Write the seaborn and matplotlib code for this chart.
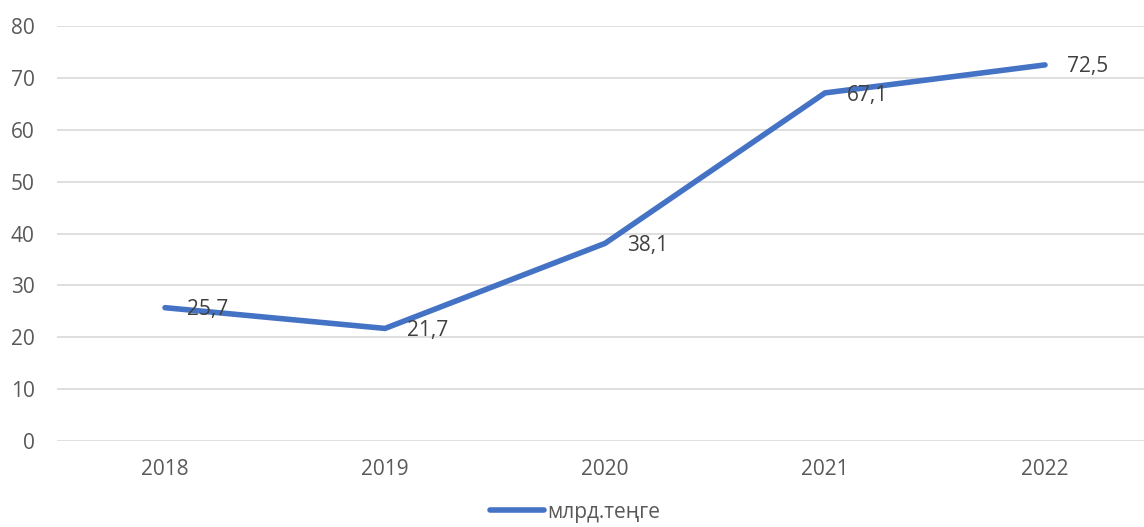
import matplotlib
matplotlib.use("Agg")
import matplotlib.pyplot as plt
import seaborn as sns
import pandas as pd

years = ["2018", "2019", "2020", "2021", "2022"]
values = [25.7, 21.7, 38.1, 67.1, 72.5]
labels = ["25,7", "21,7", "38,1", "67,1", "72,5"]
series_name = "млрд.теңге"

sns.set_style("white")
plt.rcParams["font.family"] = ["Open Sans", "DejaVu Sans"]

df = pd.DataFrame({"year": years, "value": values})

fig = plt.figure(figsize=(11.44, 5.27), dpi=100)
ax = fig.add_axes([57 / 1144, 1 - 441 / 527, (1144 - 57) / 1144, (441 - 26) / 527])

sns.lineplot(data=df, x="year", y="value", ax=ax, color="#4472C4",
             linewidth=4.0, sort=False, label=series_name)
for line in ax.get_lines():
    line.set_solid_capstyle("round")
    line.set_solid_joinstyle("miter")

for i, (v, t) in enumerate(zip(values, labels)):
    ax.annotate(t, (i, v), xytext=(16, -1.5), textcoords="offset points",
                ha="left", va="center", fontsize=15, color="#404040")

ax.set_xlim(-0.491, 4.45)
ax.set_ylim(0, 80)
ax.set_yticks(range(0, 81, 10))
ax.grid(axis="y", color="#d9d9d9", linewidth=1.2)
ax.set_axisbelow(True)
for s in ax.spines.values():
    s.set_visible(False)
ax.tick_params(axis="both", length=0, labelsize=15, labelcolor="#595959")
ax.tick_params(axis="x", pad=13)
ax.tick_params(axis="y", pad=16)
ax.set_xlabel("")
ax.set_ylabel("")

leg = ax.legend(loc="center", bbox_to_anchor=(0.503, 0.028),
                bbox_transform=fig.transFigure,
                frameon=False, fontsize=15, handlelength=2.6, handletextpad=0.15,
                labelcolor="#595959", borderpad=0.0)

fig.savefig("out.png", dpi=100)
